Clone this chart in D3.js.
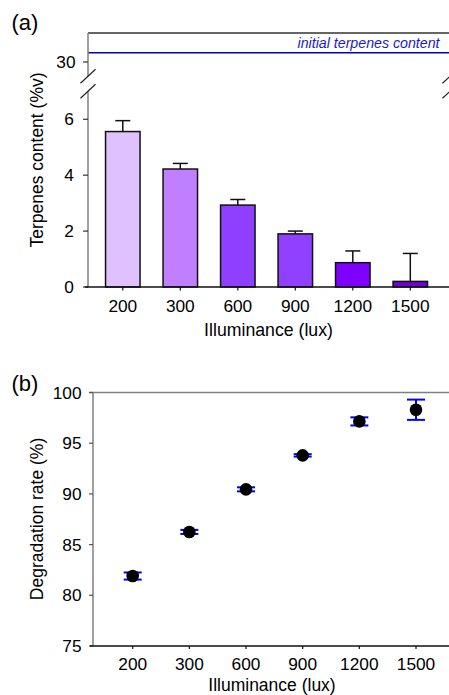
<!DOCTYPE html>
<html><head><meta charset="utf-8">
<script src="https://cdn.jsdelivr.net/npm/d3@7"></script>
<style>
html,body{margin:0;padding:0;background:#fff;}
svg{display:block;font-family:"Liberation Sans",Arial,sans-serif;}
</style></head>
<body>
<svg id="chart" width="449" height="695"></svg>
<script>
// ---- data ----
const categories = ["200","300","600","900","1200","1500"];
const terpenes = [5.56, 4.22, 2.93, 1.90, 0.87, 0.20];
const terpenesErr = [0.39, 0.20, 0.20, 0.10, 0.42, 1.00];
const barColors = ["#DFC1FF","#C07FFF","#8F3FFF","#9040FF","#8000FF","#7000D6"];
const initialContent = 30.32;
const lowerTicks = [0, 2, 4, 6];
const upperTicks = [30];
const degradation = [81.9, 86.25, 90.45, 93.8, 97.15, 98.3];
const degradationErr = [0.35, 0.2, 0.2, 0.12, 0.4, 1.0];
const degTicks = [75, 80, 85, 90, 95, 100];

const svg = d3.select("#chart");
const FONT = 17.3;

// ================= Panel (a) =================
const axL = 88, axR = 450;
const x = d3.scaleBand().domain(categories).range([94.05, 439.05]).paddingInner(0.4).paddingOuter(0.2);
const yLow = d3.scaleLinear().domain([0, 7]).range([287, 91.3]);
const yUp = d3.scaleLinear().domain([29.5, 31]).range([76.5, 33]);

const gA = svg.append("g");
gA.append("line").attr("x1", axL).attr("x2", 449).attr("y1", yUp(31)).attr("y2", yUp(31))
  .attr("stroke", "#333").attr("stroke-width", 1.5);
gA.append("line").attr("x1", axL).attr("x2", 449).attr("y1", yUp(initialContent)).attr("y2", yUp(initialContent))
  .attr("stroke", "#0000CC").attr("stroke-width", 1.5);
gA.append("text").attr("x", 439.5).attr("y", yUp(initialContent) - 4.5).attr("text-anchor", "end")
  .attr("font-size", 14.2).attr("font-style", "italic").attr("fill", "#1a1acc").text("initial terpenes content");

gA.append("line").attr("x1", axL).attr("x2", axL).attr("y1", yUp(31)).attr("y2", yUp(29.5))
  .attr("stroke", "#808080").attr("stroke-width", 1.5);
gA.append("line").attr("x1", axL).attr("x2", axL).attr("y1", yLow(7)).attr("y2", yLow(0))
  .attr("stroke", "#808080").attr("stroke-width", 1.5);
upperTicks.forEach(t => {
  gA.append("line").attr("x1", axL - 5).attr("x2", axL).attr("y1", yUp(t)).attr("y2", yUp(t)).attr("stroke", "#333").attr("stroke-width", 1.2);
  gA.append("text").attr("x", 75.5).attr("y", yUp(t)).attr("dy", "0.35em").attr("text-anchor", "end").attr("font-size", FONT).text(t);
});
lowerTicks.forEach(t => {
  gA.append("line").attr("x1", axL - 5).attr("x2", axL).attr("y1", yLow(t)).attr("y2", yLow(t)).attr("stroke", "#333").attr("stroke-width", 1.2);
  gA.append("text").attr("x", 73.8).attr("y", yLow(t)).attr("dy", "0.35em").attr("text-anchor", "end").attr("font-size", FONT).text(t);
});
[axL, axR].forEach(cx => {
  [76.3, 91.3].forEach(cy => {
    gA.append("line").attr("x1", cx - 7.5).attr("x2", cx + 7.5).attr("y1", cy + 7).attr("y2", cy - 7)
      .attr("stroke", "#222").attr("stroke-width", 1.2);
  });
});

gA.selectAll("rect.bar").data(categories).join("rect").attr("class", "bar")
  .attr("x", d => x(d)).attr("width", x.bandwidth())
  .attr("y", (d, i) => yLow(terpenes[i])).attr("height", (d, i) => yLow(0) - yLow(terpenes[i]))
  .attr("fill", (d, i) => barColors[i]).attr("stroke", "#111").attr("stroke-width", 1.5);
categories.forEach((c, i) => {
  const cx = x(c) + x.bandwidth() / 2;
  const top = yLow(terpenes[i] + terpenesErr[i]);
  gA.append("line").attr("x1", cx).attr("x2", cx).attr("y1", yLow(terpenes[i])).attr("y2", top).attr("stroke", "#111").attr("stroke-width", 1.5);
  gA.append("line").attr("x1", cx - 7.5).attr("x2", cx + 7.5).attr("y1", top).attr("y2", top).attr("stroke", "#111").attr("stroke-width", 1.5);
});
gA.append("line").attr("x1", 85).attr("x2", 449).attr("y1", yLow(0)).attr("y2", yLow(0)).attr("stroke", "#111").attr("stroke-width", 1.5);
categories.forEach(c => {
  const cx = x(c) + x.bandwidth() / 2;
  gA.append("line").attr("x1", cx).attr("x2", cx).attr("y1", yLow(0)).attr("y2", yLow(0) + 3.5).attr("stroke", "#111").attr("stroke-width", 1.2);
  gA.append("text").attr("x", cx).attr("y", 311.5).attr("text-anchor", "middle").attr("font-size", FONT).text(c);
});
gA.append("text").attr("x", 268.5).attr("y", 336).attr("text-anchor", "middle").attr("font-size", 17.7).text("Illuminance (lux)");
gA.append("text").attr("transform", "translate(42.5,160) rotate(-90)").attr("text-anchor", "middle").attr("font-size", 17.5).text("Terpenes content (%v)");
svg.append("text").attr("x", 11.5).attr("y", 30).attr("font-size", 22).text("(a)");

// ================= Panel (b) =================
const bL = 93;
const xb = d3.scalePoint().domain(categories).range([132.7, 416]);
const yb = d3.scaleLinear().domain([75, 100]).range([646, 392.5]);
const gB = svg.append("g");
gB.append("line").attr("x1", 89).attr("x2", 449).attr("y1", yb(100)).attr("y2", yb(100)).attr("stroke", "#808080").attr("stroke-width", 1.5);
gB.append("line").attr("x1", bL).attr("x2", bL).attr("y1", yb(100)).attr("y2", yb(75)).attr("stroke", "#808080").attr("stroke-width", 1.5);
degTicks.forEach(t => {
  gB.append("line").attr("x1", bL - 4).attr("x2", bL).attr("y1", yb(t)).attr("y2", yb(t)).attr("stroke", "#555").attr("stroke-width", 1.2);
  gB.append("text").attr("x", 81.5).attr("y", yb(t)).attr("dy", "0.35em").attr("text-anchor", "end").attr("font-size", FONT).text(t);
});
gB.append("line").attr("x1", 90).attr("x2", 449).attr("y1", yb(75)).attr("y2", yb(75)).attr("stroke", "#111").attr("stroke-width", 1.5);
categories.forEach(c => {
  gB.append("line").attr("x1", xb(c)).attr("x2", xb(c)).attr("y1", yb(75)).attr("y2", yb(75) + 3).attr("stroke", "#111").attr("stroke-width", 1.2);
  gB.append("text").attr("x", xb(c)).attr("y", 670).attr("text-anchor", "middle").attr("font-size", FONT).text(c);
});
categories.forEach((c, i) => {
  const cx = xb(c);
  const lo = yb(degradation[i] - degradationErr[i]), hi = yb(degradation[i] + degradationErr[i]);
  gB.append("line").attr("x1", cx).attr("x2", cx).attr("y1", lo).attr("y2", hi).attr("stroke", "#0000FF").attr("stroke-width", 2);
  [lo, hi].forEach(yy => gB.append("line").attr("x1", cx - 9).attr("x2", cx + 9).attr("y1", yy).attr("y2", yy).attr("stroke", "#0000FF").attr("stroke-width", 2));
});
gB.selectAll("circle").data(categories).join("circle")
  .attr("cx", d => xb(d)).attr("cy", (d, i) => yb(degradation[i])).attr("r", 6.3).attr("fill", "#000");
gB.append("text").attr("x", 272).attr("y", 691).attr("text-anchor", "middle").attr("font-size", 17.5).text("Illuminance (lux)");
gB.append("text").attr("transform", "translate(42.5,519) rotate(-90)").attr("text-anchor", "middle").attr("font-size", 17.5).text("Degradation rate (%)");
svg.append("text").attr("x", 11.5).attr("y", 391).attr("font-size", 22).text("(b)");
</script>
</body></html>
